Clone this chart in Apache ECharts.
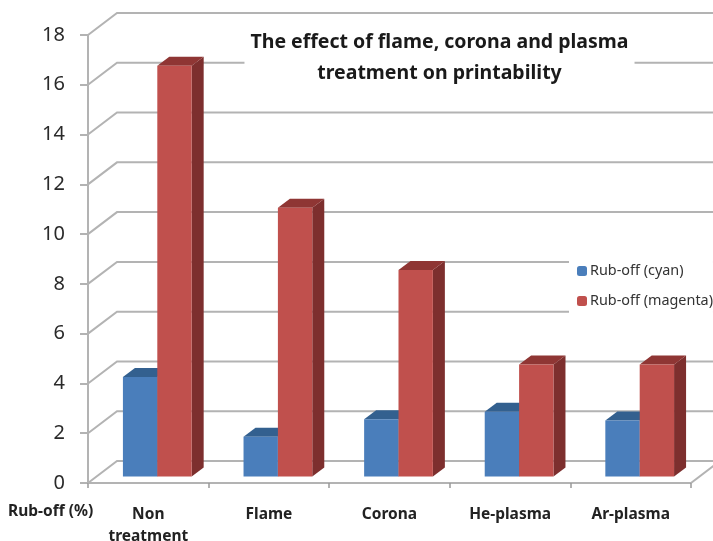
<!DOCTYPE html>
<html>
<head>
<meta charset="utf-8">
<title>Rub-off</title>
<script src="https://cdn.jsdelivr.net/npm/echarts@6/dist/echarts.min.js"></script>
<style>
  html, body { margin: 0; padding: 0; background: #fff; }
  #chart { width: 713px; height: 541px; }
</style>
</head>
<body>
<div id="chart"></div>
<script>
const categories = ['Non\ntreatment', 'Flame', 'Corona', 'He-plasma', 'Ar-plasma'];
const cyanValues = [4.0, 1.6, 2.3, 2.6, 2.25];
const magentaValues = [16.5, 10.8, 8.3, 4.5, 4.5];
const yTicks = [0, 2, 4, 6, 8, 10, 12, 14, 16, 18];

const font = '"Noto Sans", sans-serif';
const gridColor = '#b3b3b3';

// pseudo 3d: back wall offset and bar depth, in pixels
const wallDx = 29, wallDy = -22;
const barDx = 9, barDy = -6.5;
const depthX = 12, depthY = -9;

function renderWall(params, api) {
  const p = api.coord([0, api.value(1)]);
  const cs = params.coordSys;
  const x0 = cs.x;
  const x1 = cs.x + cs.width;
  const children = [{
    type: 'polyline',
    shape: { points: [[x0, p[1]], [x0 + wallDx, p[1] + wallDy], [x1 + wallDx, p[1] + wallDy]] },
    style: { stroke: gridColor, lineWidth: 2, fill: null }
  }];
  if (api.value(1) === 0) {
    children.push({
      type: 'line',
      shape: { x1: x1, y1: p[1], x2: x1 + wallDx, y2: p[1] + wallDy },
      style: { stroke: gridColor, lineWidth: 2 }
    });
  }
  return { type: 'group', children: children };
}

function barRenderer(side, front, top, dark) {
  return function (params, api) {
    const base = api.coord([api.value(0), 0]);
    const tip = api.coord([api.value(0), api.value(1)]);
    const w = api.size([1, 0])[0] * 0.285;
    const left = base[0] + barDx + (side < 0 ? -w : 0);
    const right = left + w;
    const y0 = base[1] + barDy;
    const y1 = tip[1] + barDy;
    return {
      type: 'group',
      children: [
        {
          type: 'polygon',
          shape: { points: [[right, y0], [right + depthX, y0 + depthY], [right + depthX, y1 + depthY], [right, y1]] },
          style: { fill: dark }
        },
        {
          type: 'polygon',
          shape: { points: [[left, y1], [left + depthX, y1 + depthY], [right + depthX, y1 + depthY], [right, y1]] },
          style: { fill: top }
        },
        {
          type: 'rect',
          shape: { x: left, y: y1, width: w, height: y0 - y1 },
          style: { fill: front }
        }
      ]
    };
  };
}

const chart = echarts.init(document.getElementById('chart'), null, { renderer: 'canvas' });
chart.setOption({
  animation: false,
  backgroundColor: '#fff',
  title: {
    text: 'The effect of flame, corona and plasma\ntreatment on printability',
    left: 433.5,
    top: 23,
    textAlign: 'center',
    padding: [4, 6, 4, 6],
    backgroundColor: '#fff',
    textStyle: { fontFamily: font, fontSize: 19.5, fontWeight: 'bold', color: '#1a1a1a', lineHeight: 31, align: 'center' }
  },
  legend: {
    orient: 'vertical',
    left: 569,
    top: 256,
    padding: [8, 0, 8, 8],
    backgroundColor: '#fff',
    itemWidth: 10,
    itemHeight: 10,
    itemGap: 16,
    data: ['Rub-off (cyan)', 'Rub-off (magenta)'],
    textStyle: { fontFamily: font, fontSize: 14.4, color: '#333', padding: [0, 0, 0, -2] }
  },
  grid: { left: 88, top: 35, width: 603, height: 448, outerBoundsMode: 'none' },
  xAxis: {
    type: 'category',
    data: categories,
    axisLine: { lineStyle: { color: gridColor, width: 2 } },
    axisTick: { show: true, length: 5, alignWithLabel: false, lineStyle: { color: '#999', width: 1.5 } },
    axisLabel: { fontFamily: font, fontSize: 15.5, fontWeight: 'bold', color: '#222', lineHeight: 22, margin: 21 }
  },
  yAxis: {
    type: 'value',
    min: 0,
    max: 18,
    interval: 2,
    axisLine: { show: true, lineStyle: { color: gridColor, width: 2 } },
    axisTick: { show: true, length: 8, lineStyle: { color: gridColor, width: 2 } },
    axisLabel: { fontFamily: font, fontSize: 20, color: '#2a2a2a', margin: 23, padding: [3, 0, 0, 0] },
    splitLine: { show: false }
  },
  graphic: [{
    type: 'text',
    left: 8,
    top: 504,
    style: { text: 'Rub-off (%)', font: 'bold 15.5px ' + font, fill: '#222' }
  }],
  series: [
    {
      name: 'wall',
      type: 'custom',
      z: 1,
      silent: true,
      renderItem: renderWall,
      encode: { x: 0, y: 1 },
      data: yTicks.map(function (v) { return [0, v]; })
    },
    {
      name: 'Rub-off (cyan)',
      type: 'custom',
      z: 2,
      itemStyle: { color: '#4a7ebb' },
      renderItem: barRenderer(-1, '#4a7ebb', '#33608f', '#2f5a88'),
      encode: { x: 0, y: 1 },
      data: cyanValues.map(function (v, i) { return [i, v]; })
    },
    {
      name: 'Rub-off (magenta)',
      type: 'custom',
      z: 3,
      itemStyle: { color: '#c0504d' },
      renderItem: barRenderer(1, '#c0504d', '#8f3634', '#7d2f2e'),
      encode: { x: 0, y: 1 },
      data: magentaValues.map(function (v, i) { return [i, v]; })
    }
  ]
});
window.addEventListener('resize', function () {
  chart.resize();
});
</script>
</body>
</html>
